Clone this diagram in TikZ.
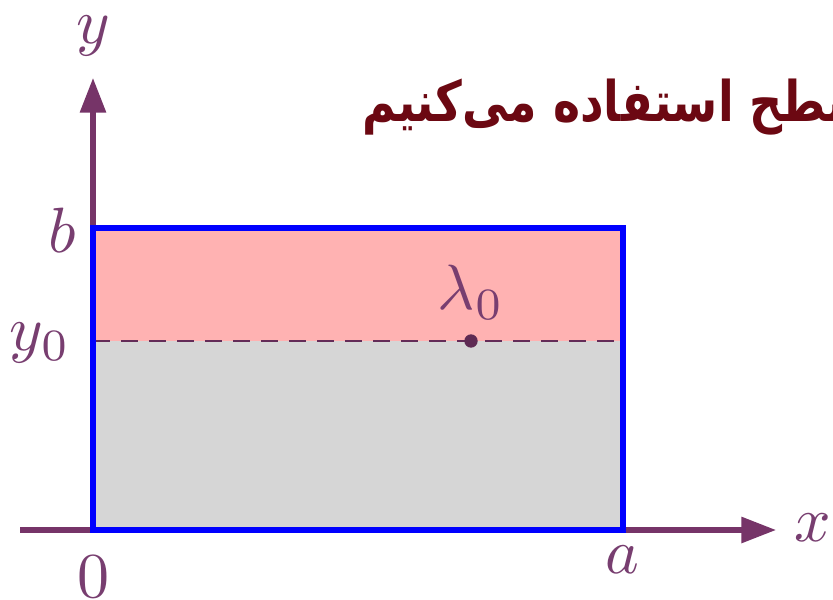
\documentclass[tikz,border=0pt]{standalone}
\usepackage{fontspec}
\newfontfamily\arabicfont[Script=Arabic]{DejaVu Sans}
\TeXXeTstate=1
\usetikzlibrary{arrows.meta}
\definecolor{axiscol}{RGB}{118,52,104}
\definecolor{labcol}{RGB}{120,62,112}
\definecolor{pinkf}{RGB}{255,178,178}
\definecolor{grayf}{RGB}{214,214,214}
\definecolor{titlecol}{RGB}{108,8,18}
\tikzset{
  axisline/.style={draw=axiscol, line width=3.8pt},
  axisarrow/.style={axisline, -{Triangle[length=26pt,width=19pt]}},
  lab/.style={text=labcol, scale=4.8, inner sep=0pt},
  border/.style={draw=blue, line width=5pt},
  dashline/.style={draw=axiscol!85!black, line width=1.6pt, dash pattern=on 13pt off 8pt},
}
\begin{document}
\begin{tikzpicture}[x={(0.75pt,0)}, y={(0,-0.75pt)}]
\useasboundingbox (0,0) rectangle (833,600);
\clip (0,0) rectangle (833,600);
\fill[white] (0,0) rectangle (833,600);
% corners
\coordinate (O) at (93,530);
\coordinate (B) at (93,228);
\coordinate (A) at (623,530);
\coordinate (AB) at (623,228);
\coordinate (Y0) at (93,341);
\coordinate (Y0r) at (623,341);
\coordinate (xs) at (20,530);
\coordinate (xe) at (776,530);
\coordinate (ye) at (93,78);
% fills
\fill[pinkf] (B) rectangle (Y0r);
\fill[grayf] (Y0) rectangle (A);
\draw[dashline] (Y0) -- (Y0r);
% axes
\draw[axisarrow] (xs) -- (xe);
\draw[axisarrow] (O) -- (ye);
% border
\draw[border] (B) rectangle (A);
% point
\node (pt) [circle, fill=axiscol!80!black, inner sep=0pt, minimum size=10pt] at (471,341) {};
% labels
\node (ly) [lab] at (93,36) {$y$};
\node (lx) [lab] at (813,528) {$x$};
\node (lb) [lab] at (62,230) {$b$};
\node (ly0) [lab] at (40,343) {$y_0$};
\node (l0) [lab] at (93,577) {$0$};
\node (la) [lab] at (622,560) {$a$};
\node (ll) [lab] at (471,292) {$\lambda_0$};
% title
\node (title) [anchor=base west, text=titlecol, inner sep=0pt, xscale=0.82, font=\fontsize{42}{48}\selectfont] at (362,121) {\arabicfont\bfseries\beginR سطح استفاده می‌کنیم\endR};
\end{tikzpicture}
\end{document}
